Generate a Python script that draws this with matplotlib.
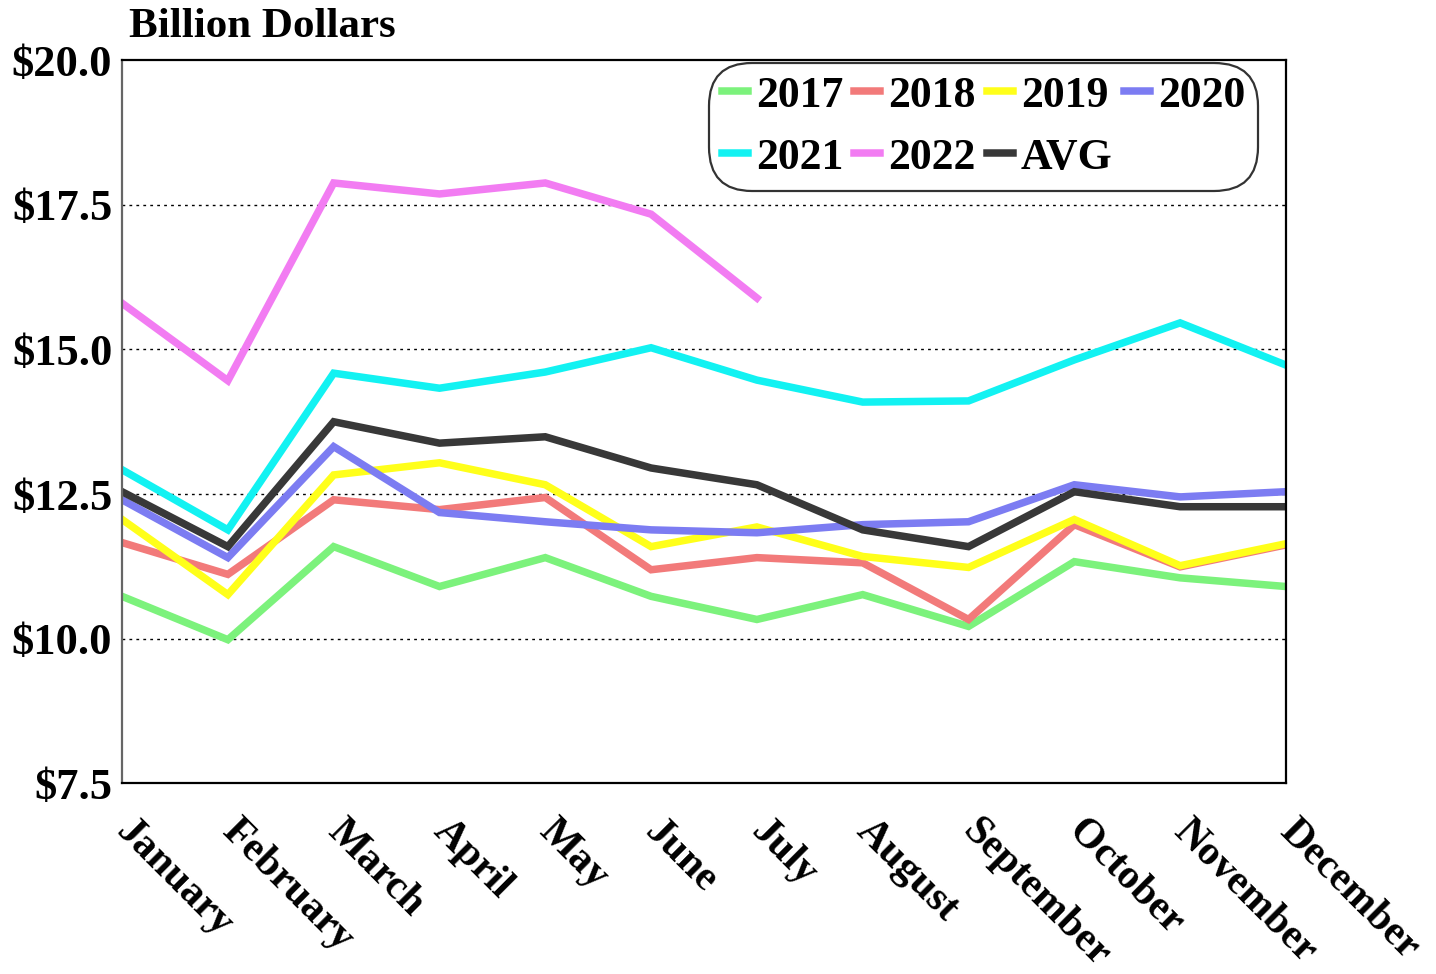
import matplotlib
matplotlib.use("Agg")
import matplotlib.pyplot as plt
from matplotlib.ticker import FixedLocator
from matplotlib.transforms import ScaledTranslation

months = ["January", "February", "March", "April", "May", "June", "July",
          "August", "September", "October", "November", "December"]

y2017 = [10.73, 9.98, 11.59, 10.90, 11.40, 10.73, 10.33, 10.76, 10.21, 11.33, 11.05, 10.90]
y2018 = [11.66, 11.11, 12.40, 12.23, 12.44, 11.19, 11.40, 11.31, 10.33, 11.97, 11.24, 11.62]
y2019 = [12.06, 10.76, 12.83, 13.04, 12.66, 11.59, 11.93, 11.42, 11.23, 12.06, 11.26, 11.64]
y2020 = [12.40, 11.40, 13.32, 12.18, 12.02, 11.88, 11.83, 11.97, 12.02, 12.66, 12.45, 12.54]
y2021 = [12.92, 11.88, 14.59, 14.33, 14.61, 15.03, 14.47, 14.09, 14.11, 14.82, 15.46, 14.73]
y2022 = [15.80, 14.46, 17.88, 17.69, 17.88, 17.34, 15.89]
yavg = [12.54, 11.59, 13.75, 13.38, 13.49, 12.95, 12.66, 11.88, 11.59, 12.54, 12.28, 12.28]

series = [
    ("2017", y2017, "#7CF27C"),
    ("2018", y2018, "#F27A7A"),
    ("2019", y2019, "#FFFF1A"),
    ("2020", y2020, "#7C7CF2"),
    ("2021", y2021, "#12F2F2"),
    ("2022", y2022, "#F27CF2"),
    ("AVG", yavg, "#383838"),
]

yticks = [7.5, 10.0, 12.5, 15.0, 17.5, 20.0]
ytick_labels = ["$7.5", "$10.0", "$12.5", "$15.0", "$17.5", "$20.0"]

plt.rcParams['font.family'] = ['Liberation Serif', 'DejaVu Serif']
plt.rcParams['font.weight'] = 'bold'

fig = plt.figure(figsize=(14.36, 9.74), dpi=100)
ax = fig.add_axes([0.085, 0.196, 0.8105, 0.742])

handles = {}
for name, vals, col in series:
    x = list(range(len(vals)))
    h, = ax.plot(x, vals, color=col, lw=5.4, solid_joinstyle='miter', label=name)
    handles[name] = h

ax.set_xlim(0, 11)
ax.set_ylim(7.5, 20)
ax.yaxis.set_major_locator(FixedLocator(yticks))
ax.set_yticklabels(ytick_labels, fontsize=32, fontweight='bold')
ax.set_xticks(range(12))
ax.set_xticklabels(months, fontsize=30, fontweight='bold', rotation=-45,
                   ha='left', va='top', rotation_mode='anchor')
ax.tick_params(axis='both', length=0)
ax.tick_params(axis='y', pad=7)
ax.tick_params(axis='x', pad=21)
shift = ScaledTranslation(0.13, 0, fig.dpi_scale_trans)
for lab in ax.get_xticklabels():
    lab.set_transform(lab.get_transform() + shift)
for yv in [10.0, 12.5, 15.0, 17.5]:
    ax.axhline(yv, color='black', lw=1.0, ls=(0, (2, 3)), zorder=0)
for s in ax.spines.values():
    s.set_linewidth(1.6)
    s.set_color('black')
ax.spines['left'].set_color('#666666')

order = ["2017", "2021", "2018", "2022", "2019", "AVG", "2020"]
leg = ax.legend([handles[n] for n in order], order, ncol=4, loc='upper right',
                bbox_to_anchor=(0.976, 0.997), borderaxespad=0.0,
                prop={'weight': 'bold', 'size': 31.5},
                handlelength=0.6, handletextpad=0.18, columnspacing=0.25,
                labelspacing=0.5, borderpad=0.3, frameon=True, fancybox=True)
leg.get_frame().set_edgecolor('black')
leg.get_frame().set_linewidth(1.6)
leg.get_frame().set_boxstyle('round', pad=0.0, rounding_size=1.0)

fig.text(0.09, 0.972, "Billion Dollars", fontsize=31, fontweight='bold',
         ha='left', va='center')

fig.savefig("out.png", dpi=100)
